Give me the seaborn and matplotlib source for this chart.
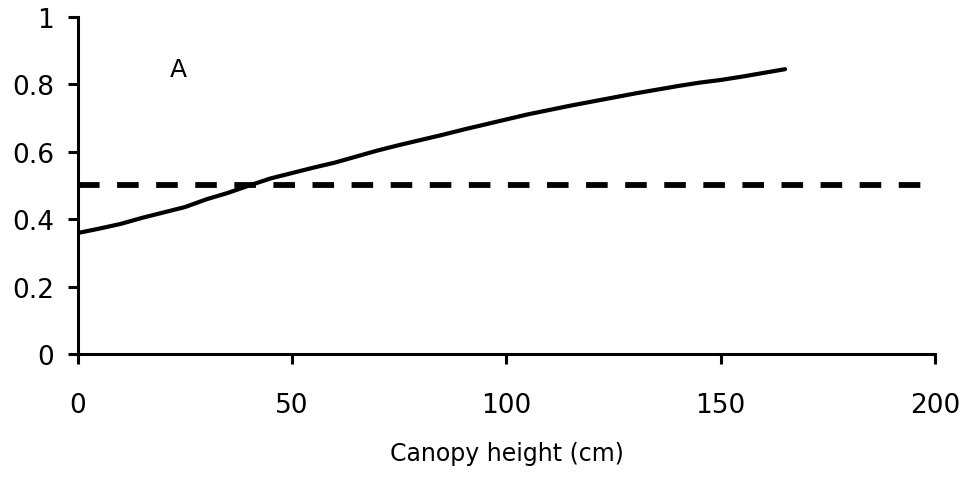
import matplotlib
matplotlib.use("Agg")
import matplotlib.pyplot as plt
import seaborn as sns
import pandas as pd

canopy_height = [0, 5, 10, 15, 20, 25, 30, 35, 40, 45, 50, 55, 60, 65, 70, 75, 80,
                 85, 90, 95, 100, 105, 110, 115, 120, 125, 130, 135, 140, 145, 150,
                 155, 160, 165]
probability = [0.359, 0.372, 0.386, 0.404, 0.420, 0.436, 0.459, 0.478, 0.500, 0.521,
               0.537, 0.553, 0.568, 0.586, 0.604, 0.620, 0.635, 0.650, 0.666, 0.681,
               0.696, 0.711, 0.724, 0.737, 0.749, 0.761, 0.773, 0.784, 0.795, 0.805,
               0.813, 0.823, 0.834, 0.845]
threshold_x = [0, 200]
threshold_y = [0.502, 0.502]
x_ticks = [0, 50, 100, 150, 200]
y_ticks = [0, 0.2, 0.4, 0.6, 0.8, 1]
y_tick_labels = ["0", "0.2", "0.4", "0.6", "0.8", "1"]

sns.set_style("white")
plt.rcParams['font.family'] = ['DejaVu Sans']

fig = plt.figure(figsize=(9.73, 4.85), dpi=100)
ax = fig.add_axes([0.080, 0.268, 0.881, 0.695])

df = pd.DataFrame({"x": canopy_height, "y": probability})
sns.lineplot(data=df, x="x", y="y", ax=ax, color="black", linewidth=3.0)
dfd = pd.DataFrame({"x": threshold_x, "y": threshold_y})
sns.lineplot(data=dfd, x="x", y="y", ax=ax, color="black", linewidth=4.2,
             linestyle=(0, (3.7, 3.0)))

ax.set_xlim(0, 200)
ax.set_ylim(0, 1)
ax.set_xticks(x_ticks)
ax.set_xticklabels([str(t) for t in x_ticks])
ax.set_yticks(y_ticks)
ax.set_yticklabels(y_tick_labels)
ax.tick_params(axis="x", direction="out", length=7, width=2.2, pad=20, labelsize=19,
               bottom=True, colors="black")
ax.tick_params(axis="y", direction="out", length=7, width=2.2, pad=10, labelsize=19,
               left=True, colors="black")
for s in ["top", "right"]:
    ax.spines[s].set_visible(False)
for s in ["left", "bottom"]:
    ax.spines[s].set_linewidth(2.2)
    ax.spines[s].set_color("black")
ax.set_xlabel("Canopy height (cm)", fontsize=17, labelpad=17, color="black")
ax.set_ylabel("")
ax.text(23.5, 0.846, "A", fontsize=18, ha="center", va="center", color="black")

fig.savefig("out.png", dpi=100)
